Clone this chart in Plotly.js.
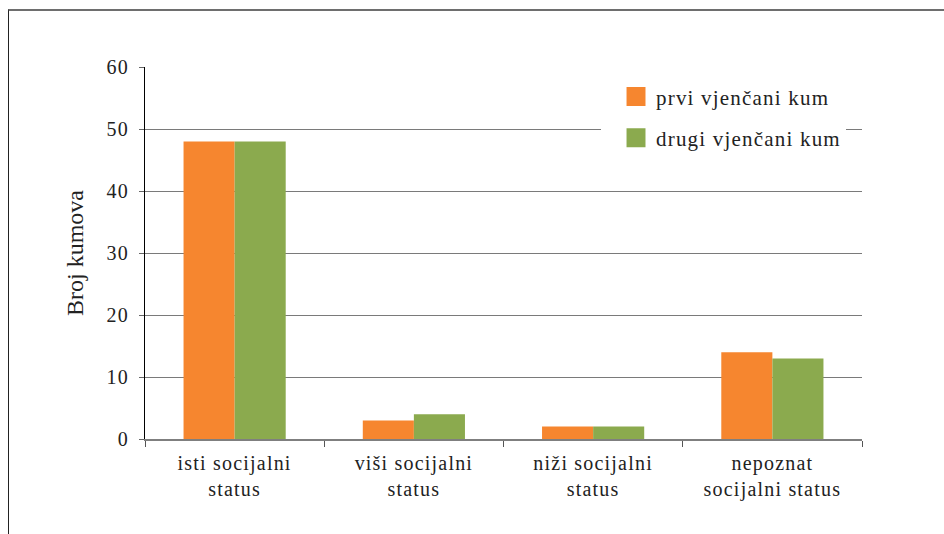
<!DOCTYPE html>
<html>
<head>
<meta charset="utf-8">
<script src="https://cdn.plot.ly/plotly-3.0.1.min.js"></script>
<style>
  html, body { margin: 0; padding: 0; background: #fff; }
  #wrap { position: relative; width: 944px; height: 534px; overflow: hidden; }
  #chart { position: absolute; left: 0; top: 0; width: 944px; height: 534px; }
  #frame { position: absolute; left: 8px; top: 9px; width: 960px; height: 600px;
           border-top: 2px solid #6e6e6e; border-left: 1px solid #222; pointer-events: none; }
  .xtick text, .ytick text, text.legendtext { letter-spacing: 1.2px; }
</style>
</head>
<body>
<div id="wrap">
  <div id="chart"></div>
  <div id="frame"></div>
</div>
<script>
const categories = [
  "isti socijalni<br>status",
  "viši socijalni<br>status",
  "niži socijalni<br>status",
  "nepoznat<br>socijalni status"
];
const seriesNames = ["prvi vjenčani kum", "drugi vjenčani kum"];
const prviValues = [48, 3, 2, 14];
const drugiValues = [48, 4, 2, 13];
const yTicks = [0, 10, 20, 30, 40, 50, 60];

const fontFam = "Liberation Serif";

const traces = [
  { type: "bar", name: seriesNames[0], x: categories, y: prviValues,
    marker: { color: "#F6862F", line: { width: 0 } }, legendgroup: "a", hoverinfo: "skip" },
  { type: "bar", name: seriesNames[1], x: categories, y: drugiValues,
    marker: { color: "#8BAA4E", line: { width: 0 } }, legendgroup: "b", hoverinfo: "skip" }
];

const layout = {
  width: 944, height: 534,
  margin: { l: 145, r: 82, t: 67, b: 95, pad: 0 },
  paper_bgcolor: "rgba(0,0,0,0)",
  plot_bgcolor: "rgba(0,0,0,0)",
  font: { family: fontFam, size: 20, color: "#222" },
  barmode: "group",
  bargap: 0.43,
  bargroupgap: 0,
  showlegend: true,
  legend: {
    x: 0.636, xanchor: "left",
    y: 0.975, yanchor: "top",
    bgcolor: "#ffffff",
    borderwidth: 0,
    indentation: 15,
    tracegroupgap: 11,
    entrywidth: 222, entrywidthmode: "pixels",
    font: { family: fontFam, size: 21, color: "#222" },
    itemclick: false, itemdoubleclick: false
  },
  xaxis: {
    type: "category",
    showline: true, linecolor: "#7f7f7f", linewidth: 1.5,
    ticks: "outside", tickson: "boundaries", ticklen: 6, tickcolor: "#555", tickwidth: 1,
    showgrid: false, zeroline: false,
    ticklabelstandoff: 5,
    tickfont: { family: fontFam, size: 20, color: "#222" },
    automargin: false,
    fixedrange: true
  },
  yaxis: {
    range: [0, 60],
    tickvals: yTicks,
    ticktext: yTicks.map(String),
    showline: true, linecolor: "#000", linewidth: 1,
    ticks: "outside", ticklen: 5, tickcolor: "#666", tickwidth: 1,
    showgrid: true, gridcolor: "#7a7a7a", gridwidth: 1,
    zeroline: false,
    ticklabelstandoff: 6,
    tickfont: { family: fontFam, size: 20, color: "#222" },
    title: { text: "Broj kumova", font: { family: fontFam, size: 24, color: "#222" }, standoff: 16 },
    automargin: false,
    fixedrange: true
  }
};

Plotly.newPlot("chart", traces, layout, { displayModeBar: false, staticPlot: true }).then(function (gd) {
  // enlarge the legend colour squares to match the reference (keep existing transform)
  gd.querySelectorAll(".legendpoints path").forEach(function (p) {
    const t = p.getAttribute("transform") || "";
    p.setAttribute("transform", (t + " scale(1.58)").trim());
  });
});
</script>
</body>
</html>
